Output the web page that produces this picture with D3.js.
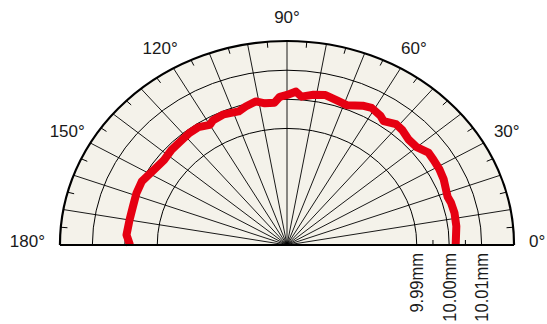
<!DOCTYPE html>
<html>
<head>
<meta charset="utf-8">
<script src="https://cdn.jsdelivr.net/npm/d3@7"></script>
<style>
  html, body { margin: 0; padding: 0; background: #fff; }
  svg { display: block; font-family: "Liberation Sans", Arial, sans-serif; }
</style>
</head>
<body>
<div class="chart"></div>
<script>
'use strict'
// measured roundness profile, angle in degrees, diameter in mm
const angles = [0, 7, 12, 16, 18.5, 25, 29, 33, 36, 40, 44, 48, 51, 55, 57, 61, 64, 69, 73, 77, 81, 85, 87, 90,
  92.5, 94.5, 98, 101, 105, 108, 113.5, 118, 120, 124, 128, 133, 137.5, 142.5, 148, 154, 159, 164.5, 170, 176, 180]
const diameters = [10.0020, 10.0026, 10.0028, 10.0026, 10.0022, 10.0033, 10.0037, 10.0038, 10.0039, 10.0022,
  10.0021, 10.0031, 10.0034, 10.0019, 10.0029, 10.0038, 10.0032, 10.0014, 10.0020, 10.0028, 10.0022, 10.0011,
  10.0027, 10.0015, 10.0009, 9.9990, 9.9991, 10.0002, 9.9992, 9.9982, 9.9989, 9.9985, 9.9976, 9.9988, 9.9988,
  9.9984, 9.9983, 9.9978, 9.9985, 9.9998, 9.9997, 9.9993, 9.9993, 9.9996, 9.9984]

const angleLabels = [0, 30, 60, 90, 120, 150, 180]
const gridRings = [9.99, 10.00, 10.01]
const ringLabels = ['9.99mm', '10.00mm', '10.01mm']
const minorRings = [9.995, 10.005]

const width = 547
const height = 324
const cx = 287
const cy = 245
const R = 204
const sx = 1.113 // the plot is stretched sideways

const r = d3.scaleLinear().domain([9.95, 10.02]).range([0, R])
const a = d3.scaleLinear().domain([0, 180]).range([0, Math.PI])

const px = function (deg, rad) { return cx + rad * Math.cos(a(deg)) * sx }
const py = function (deg, rad) { return cy - rad * Math.sin(a(deg)) }

const halfArc = function (rad, close) {
  return 'M' + (cx - rad * sx) + ',' + cy + 'A' + (rad * sx) + ',' + rad + ' 0 0 1 ' + (cx + rad * sx) + ',' + cy + (close ? 'Z' : '')
}

const svg = d3.select('.chart').append('svg')
  .attr('width', width)
  .attr('height', height)

svg.append('path')
  .attr('d', halfArc(R, true))
  .attr('fill', '#f4f2ea')

// rings
svg.append('g').selectAll('path')
  .data(gridRings)
  .enter().append('path')
  .attr('d', function (d) { return halfArc(r(d), false) })
  .attr('fill', 'none')
  .attr('stroke', '#000')
  .attr('stroke-width', 1)

// spokes every 10 degrees
svg.append('g').selectAll('line')
  .data(d3.range(10, 180, 10))
  .enter().append('line')
  .attr('x1', cx)
  .attr('y1', cy)
  .attr('x2', function (d) { return px(d, R) })
  .attr('y2', function (d) { return py(d, R) })
  .attr('stroke', '#000')
  .attr('stroke-width', 0.9)

// small ticks on the rim
svg.append('g').selectAll('line')
  .data(d3.range(5, 180, 10))
  .enter().append('line')
  .attr('x1', function (d) { return px(d, R) })
  .attr('y1', function (d) { return py(d, R) })
  .attr('x2', function (d) { return px(d, R - 6) })
  .attr('y2', function (d) { return py(d, R - 6) })
  .attr('stroke', '#000')
  .attr('stroke-width', 1)

// small ticks on the base
svg.append('g').selectAll('line')
  .data(minorRings)
  .enter().append('line')
  .attr('x1', function (d) { return px(0, r(d)) })
  .attr('x2', function (d) { return px(0, r(d)) })
  .attr('y1', cy)
  .attr('y2', cy - 5)
  .attr('stroke', '#000')
  .attr('stroke-width', 1)

const profile = angles.map(function (d, i) { return [d, diameters[i]] })
const line = d3.line()
  .x(function (d) { return px(d[0], r(d[1])) })
  .y(function (d) { return py(d[0], r(d[1])) })

svg.append('path')
  .datum(profile)
  .attr('d', line)
  .attr('fill', 'none')
  .attr('stroke', '#e60012')
  .attr('stroke-width', 8)
  .attr('stroke-linejoin', 'round')
  .attr('stroke-linecap', 'butt')

// rim and base
svg.append('path')
  .attr('d', halfArc(R, false))
  .attr('fill', 'none')
  .attr('stroke', '#000')
  .attr('stroke-width', 2.2)

svg.append('line')
  .attr('x1', cx - R * sx)
  .attr('x2', cx + R * sx)
  .attr('y1', cy)
  .attr('y2', cy)
  .attr('stroke', '#000')
  .attr('stroke-width', 2)

// angle labels; the two ends sit beside the base line
const anchorFor = function (d) {
  if (d === 0) return 'start'
  if (d === 180) return 'end'
  return 'middle'
}

svg.append('g').selectAll('text')
  .data(angleLabels)
  .enter().append('text')
  .attr('x', function (d) {
    if (d === 0 || d === 180) return px(d, R) + Math.cos(a(d)) * 15
    return px(d, R + 24)
  })
  .attr('y', function (d) {
    if (d === 0 || d === 180) return cy + 2
    return py(d, R + 24) + 6
  })
  .attr('text-anchor', anchorFor)
  .attr('font-size', 17)
  .attr('fill', '#1a1a1a')
  .text(function (d) { return d + '°' })

svg.append('g').selectAll('text')
  .data(gridRings)
  .enter().append('text')
  .attr('transform', function (d) {
    return 'translate(' + px(0, r(d)) + ',' + (cy + 8) + ')scale(' + sx + ',1)rotate(-90)'
  })
  .attr('text-anchor', 'end')
  .attr('dy', '0.35em')
  .attr('font-size', 16.5)
  .attr('fill', '#1a1a1a')
  .text(function (d, i) { return ringLabels[i] })
</script>
</body>
</html>
